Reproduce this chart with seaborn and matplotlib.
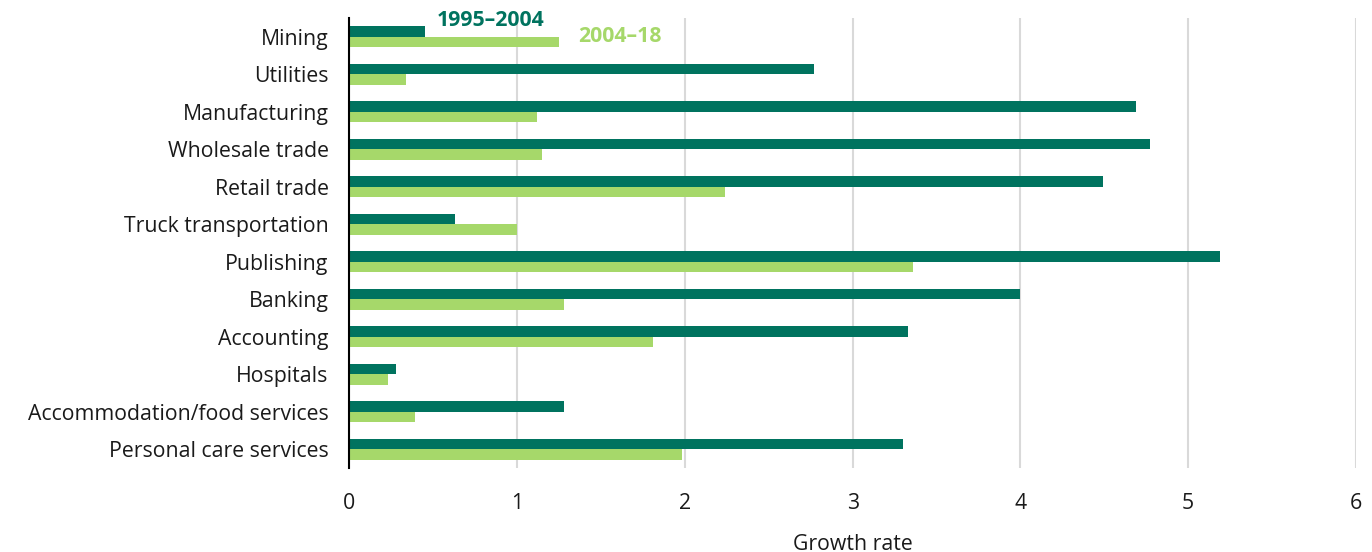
import matplotlib
matplotlib.use("Agg")
import matplotlib.pyplot as plt
import seaborn as sns
import pandas as pd

industries = ["Mining", "Utilities", "Manufacturing", "Wholesale trade", "Retail trade",
              "Truck transportation", "Publishing", "Banking", "Accounting", "Hospitals",
              "Accommodation/food services", "Personal care services"]
growth_1995_2004 = [0.45, 2.77, 4.69, 4.77, 4.49, 0.63, 5.19, 4.00, 3.33, 0.28, 1.28, 3.30]
growth_2004_18 = [1.25, 0.34, 1.12, 1.15, 2.24, 1.00, 3.36, 1.28, 1.81, 0.23, 0.39, 1.98]
periods = ["1995–2004", "2004–18"]
colors = ["#00735F", "#A6D86A"]

df = pd.DataFrame({
    "industry": industries * 2,
    "value": growth_1995_2004 + growth_2004_18,
    "period": [periods[0]] * len(industries) + [periods[1]] * len(industries),
})

sns.set_theme(style="white")
plt.rcParams['font.family'] = ['Open Sans', 'DejaVu Sans']

fig = plt.figure(figsize=(13.72, 5.52), dpi=100)
ax = fig.add_axes([0.2547, 0.152, 0.7336, 0.815])

sns.barplot(data=df, y="industry", x="value", hue="period", palette=colors,
            order=industries, hue_order=periods, width=0.56, gap=0,
            orient="h", ax=ax, legend=False, saturation=1, linewidth=0)

ax.set_xlim(0, 6)
ax.set_ylim(11.5, -0.5)
ax.set_xticks(range(0, 7))
ax.xaxis.grid(True, color="#d9d9d9", linewidth=1.5)
ax.set_axisbelow(True)
for s in ["top", "right", "bottom"]:
    ax.spines[s].set_visible(False)
ax.spines["left"].set_color("black")
ax.spines["left"].set_linewidth(1.5)
ax.tick_params(axis="both", length=0, labelsize=15.3, colors="#1a1a1a")
ax.tick_params(axis="x", pad=18)
ax.tick_params(axis="y", pad=15)
ax.set_ylabel("")
ax.set_xlabel("Growth rate", fontsize=15.3, color="#1a1a1a", labelpad=14)

ax.text(0.84, -0.45, periods[0], color=colors[0], fontsize=15.3, fontweight="bold",
        ha="center", va="center")
ax.text(1.61, 0.0, periods[1], color=colors[1], fontsize=15.3, fontweight="bold",
        ha="center", va="center")

fig.savefig("out.png", dpi=100)
